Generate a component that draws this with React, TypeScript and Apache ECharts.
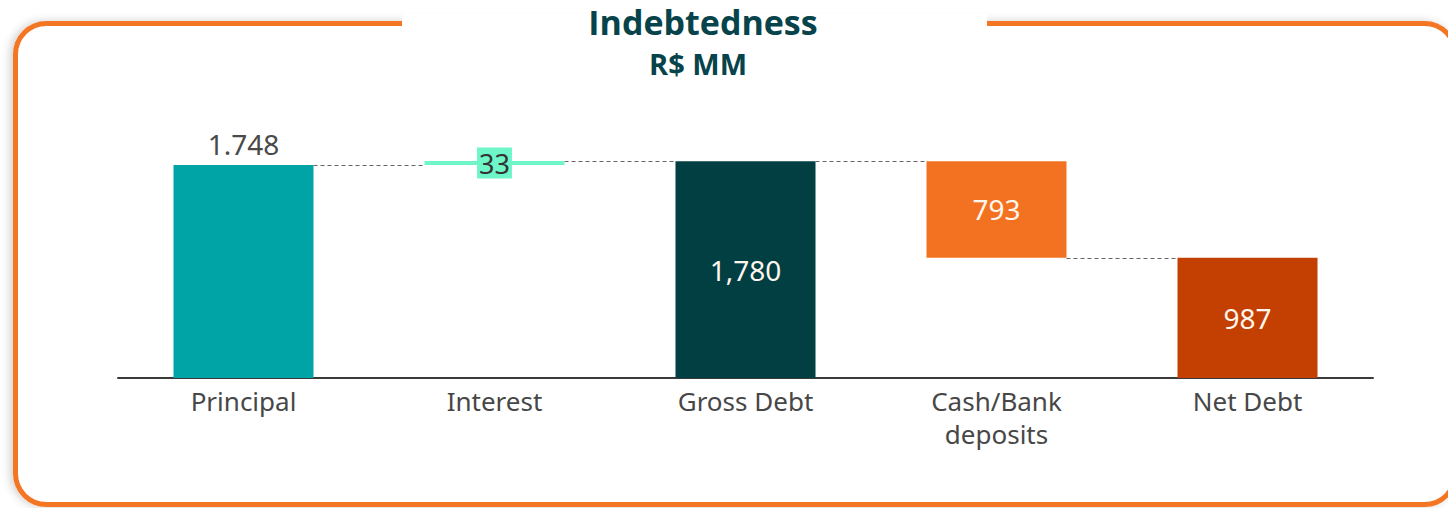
import React, { useEffect, useRef } from "react";
import * as echarts from "echarts";

const categories = ["Principal", "Interest", "Gross Debt", "Cash/Bank\ndeposits", "Net Debt"];
const values = [1748, 33, 1780, 793, 987];
const kinds = ["total", "increase", "total", "decrease", "total"];
const valueLabels = ["1.748", "33", "1,780", "793", "987"];
const barColors = ["#00A3A6", "#6EF6C8", "#023F42", "#F37221", "#C34002"];

export default function App() {
  const ref = useRef<HTMLDivElement>(null);
  useEffect(() => {
    if (!ref.current) return;
    const chart = echarts.init(ref.current, undefined, { renderer: "svg" });

    const bases: number[] = [];
    const ends: number[] = [];
    let running = 0;
    values.forEach((v, i) => {
      const k = kinds[i];
      if (k === "total") {
        bases.push(0);
        running = v;
        ends.push(v);
      } else if (k === "increase") {
        bases.push(running);
        running = running + v;
        ends.push(running);
      } else {
        bases.push(running - v);
        running = running - v;
        ends.push(running);
      }
    });
    const connectors = ends.slice(0, ends.length - 1).map((lv, i) => [i, lv]);
    const BW = 140;
    const font = "'Noto Sans', sans-serif";

    chart.setOption({
      animation: false,
      backgroundColor: "#ffffff",
      grid: { left: 118, right: 75, top: 110, bottom: 130 },
      xAxis: {
        type: "category",
        data: categories,
        axisLine: { lineStyle: { color: "#3a3a3a", width: 2 } },
        axisTick: { show: false },
        axisLabel: {
          color: "#474747",
          fontSize: 26,
          fontFamily: font,
          margin: 6,
          lineHeight: 33,
        },
      },
      yAxis: {
        type: "value",
        min: 0,
        max: 2200,
        show: false,
        splitLine: { show: false },
      },
      graphic: [
        {
          type: "rect",
          shape: { x: 15.5, y: 23.5, width: 1440, height: 481, r: 31 },
          style: {
            fill: "#ffffff",
            stroke: "#F47524",
            lineWidth: 5,
            shadowBlur: 8,
            shadowColor: "rgba(0,0,0,0.18)",
            shadowOffsetX: -3,
            shadowOffsetY: 0,
          },
          z: -10,
        },
        {
          type: "rect",
          shape: { x: 402, y: 14, width: 585, height: 20 },
          style: { fill: "#ffffff" },
          z: -9,
        },
        {
          type: "text",
          x: 703,
          y: 22,
          style: {
            text: "Indebtedness",
            fill: "#07434A",
            font: "bold 34px 'Open Sans', sans-serif",
            textAlign: "center",
            textVerticalAlign: "middle",
          },
        },
        {
          type: "text",
          x: 698,
          y: 63,
          style: {
            text: "R$ MM",
            fill: "#07434A",
            font: "bold 29px 'Open Sans', sans-serif",
            textAlign: "center",
            textVerticalAlign: "middle",
          },
        },
      ],
      series: [
        {
          type: "bar",
          stack: "w",
          barWidth: BW,
          data: bases,
          itemStyle: { color: "transparent" },
          silent: true,
        },
        {
          type: "bar",
          stack: "w",
          barWidth: BW,
          data: values.map((v, i) => {
            const base: any = { value: v, itemStyle: { color: barColors[i] } };
            if (i === 0) {
              base.label = {
                show: true,
                position: "top",
                distance: 7,
                color: "#4a4a4a",
                fontSize: 28,
                fontFamily: font,
                formatter: valueLabels[i],
              };
            } else if (kinds[i] === "increase") {
              base.label = {
                show: true,
                position: "inside",
                color: "#333333",
                fontSize: 27,
                fontFamily: font,
                backgroundColor: "#6EF6C8",
                padding: [0, 2, 0, 2],
                lineHeight: 31,
                formatter: valueLabels[i],
              };
            } else {
              base.label = {
                show: true,
                position: "inside",
                color: "#FFF6EE",
                fontSize: 28,
                fontFamily: font,
                formatter: valueLabels[i],
              };
            }
            return base;
          }),
        },
        {
          type: "custom",
          data: connectors,
          silent: true,
          z: 1,
          renderItem: (params: any, api: any) => {
            const idx = api.value(0);
            const lv = api.value(1);
            const p = api.coord([idx, lv]);
            const band = api.size([1, 0])[0];
            const x1 = p[0] + BW / 2;
            const x2 = p[0] + band - BW / 2;
            return {
              type: "line",
              shape: { x1, y1: Math.round(p[1]) + 0.5, x2, y2: Math.round(p[1]) + 0.5 },
              style: { stroke: "#666666", lineWidth: 1, lineDash: [4, 3] },
            };
          },
        },
      ],
    });
    return () => chart.dispose();
  }, []);

  return (
    <div
      ref={ref}
      style={{ position: "fixed", left: 0, top: 0, width: 1448, height: 508 }}
    />
  );
}
